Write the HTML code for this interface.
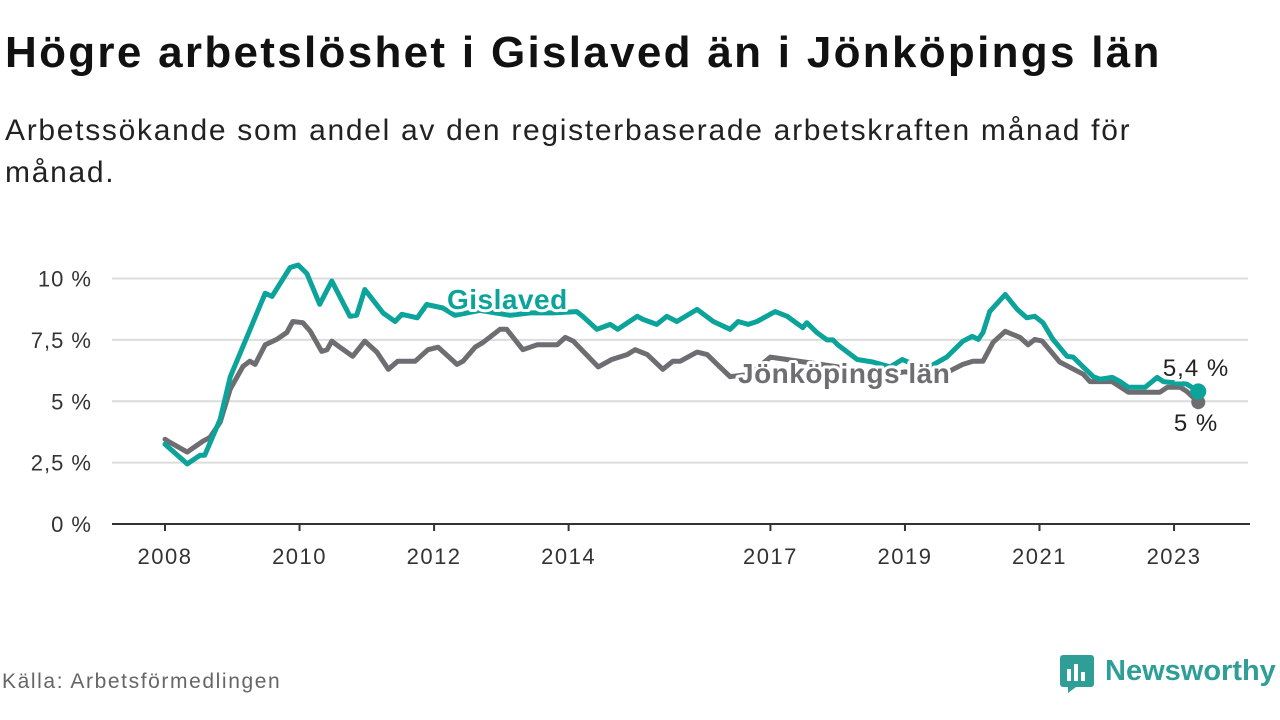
<!DOCTYPE html>
<html><head><meta charset="utf-8"><style>
body{margin:0;width:1280px;height:720px;background:#fff;font-family:"Liberation Sans",sans-serif;overflow:hidden;position:relative}
.t{position:absolute;left:5px;top:28px;font-size:44px;font-weight:bold;color:#111;white-space:nowrap;letter-spacing:2.3px}
.s{position:absolute;left:5px;top:110px;font-size:30px;color:#222;line-height:42px;width:1200px;letter-spacing:1.7px}
.src{position:absolute;left:2px;top:670px;font-size:21px;color:#666;letter-spacing:1.6px}
.logo{position:absolute;left:1060px;top:655px}
.logo span{position:absolute;left:45px;top:0px;font-size:29px;font-weight:bold;color:#2e9e96;white-space:nowrap}
</style></head><body>
<div class="t">Högre arbetslöshet i Gislaved än i Jönköpings län</div>
<div class="s">Arbetssökande som andel av den registerbaserade arbetskraften månad för månad.</div>
<svg id="chart" width="1280" height="720" style="position:absolute;left:0;top:0"></svg>
<div class="src">Källa: Arbetsförmedlingen</div>
<div class="logo">
<svg width="36" height="38"><rect x="0" y="0" width="34" height="32" rx="3" fill="#2e9e96"/><path d="M8 32 L8 38 L16 32Z" fill="#2e9e96"/><rect x="7" y="14" width="4" height="12" fill="#fff"/><rect x="14" y="9" width="4" height="17" fill="#fff"/><rect x="21" y="17" width="4" height="9" fill="#fff"/></svg>
<span>Newsworthy</span></div>
<script>
const yTicks=[0,2.5,5,7.5,10];
const yTickLabels=["0 %","2,5 %","5 %","7,5 %","10 %"];
const xTicks=[2008,2010,2012,2014,2017,2019,2021,2023];
const gisYears=[2008.0,2008.33,2008.52,2008.59,2008.82,2008.97,2009.26,2009.49,2009.59,2009.86,2009.98,2010.11,2010.30,2010.48,2010.75,2010.85,2010.97,2011.24,2011.42,2011.52,2011.75,2011.89,2012.13,2012.31,2012.68,2013.13,2013.43,2013.77,2014.12,2014.21,2014.42,2014.62,2014.73,2015.02,2015.11,2015.31,2015.46,2015.61,2015.91,2016.15,2016.40,2016.52,2016.67,2016.80,2017.07,2017.25,2017.48,2017.54,2017.69,2017.84,2017.93,2018.00,2018.29,2018.52,2018.78,2018.96,2019.30,2019.62,2019.86,2020.00,2020.09,2020.16,2020.26,2020.49,2020.67,2020.81,2020.93,2021.05,2021.20,2021.41,2021.50,2021.65,2021.80,2021.90,2022.08,2022.20,2022.32,2022.57,2022.75,2022.84,2023.19,2023.36];
const gisValues=[3.25,2.45,2.8,2.8,4.27,6.0,7.9,9.4,9.27,10.45,10.55,10.2,8.95,9.9,8.46,8.5,9.55,8.6,8.25,8.54,8.4,8.94,8.8,8.5,8.7,8.5,8.6,8.6,8.65,8.46,7.93,8.13,7.93,8.46,8.33,8.13,8.46,8.25,8.74,8.25,7.93,8.25,8.13,8.25,8.65,8.46,8.0,8.2,7.8,7.5,7.5,7.3,6.7,6.6,6.4,6.7,6.3,6.8,7.44,7.64,7.52,7.8,8.65,9.35,8.74,8.4,8.46,8.2,7.52,6.83,6.8,6.4,6.0,5.9,5.97,5.8,5.57,5.57,5.97,5.8,5.7,5.4];
const jkpYears=[2008.0,2008.07,2008.33,2008.56,2008.67,2008.82,2008.97,2009.16,2009.26,2009.34,2009.49,2009.66,2009.81,2009.90,2010.05,2010.16,2010.33,2010.41,2010.48,2010.60,2010.79,2010.97,2011.15,2011.32,2011.46,2011.72,2011.91,2012.06,2012.34,2012.43,2012.61,2012.73,2012.98,2013.08,2013.32,2013.53,2013.83,2013.95,2014.07,2014.44,2014.64,2014.87,2014.99,2015.17,2015.40,2015.55,2015.66,2015.91,2016.06,2016.21,2016.40,2016.70,2017.00,2017.50,2018.00,2018.50,2019.00,2019.50,2019.86,2020.01,2020.16,2020.31,2020.49,2020.71,2020.83,2020.93,2021.04,2021.30,2021.65,2021.75,2022.08,2022.32,2022.79,2022.90,2023.09,2023.19,2023.36];
const jkpValues=[3.45,3.33,2.93,3.37,3.53,4.15,5.5,6.42,6.63,6.5,7.3,7.52,7.8,8.25,8.2,7.85,7.03,7.1,7.45,7.2,6.83,7.45,7.0,6.3,6.63,6.63,7.1,7.2,6.5,6.63,7.2,7.4,7.93,7.93,7.1,7.3,7.3,7.6,7.45,6.4,6.7,6.9,7.1,6.9,6.3,6.63,6.63,7.0,6.9,6.5,6.0,6.1,6.8,6.6,6.4,6.0,6.2,6.0,6.5,6.63,6.63,7.4,7.85,7.6,7.3,7.52,7.45,6.6,6.1,5.8,5.8,5.37,5.37,5.57,5.57,5.4,4.96];
const NS="http://www.w3.org/2000/svg";
const svg=document.getElementById('chart');
const X=y=>165+(y-2008)*67.27;
const Y=v=>524-v*24.55;
function mk(tag,attrs,parent){const e=document.createElementNS(NS,tag);for(const k in attrs)e.setAttribute(k,attrs[k]);(parent||svg).appendChild(e);return e;}
yTicks.forEach((v,i)=>{
  if(v>0){const g=mk('line',{x1:112,x2:1248,y1:Y(v),y2:Y(v),stroke:'#dcdcdc','stroke-width':2});
  
  }
  const t=mk('text',{x:92,y:Y(v)+8,'text-anchor':'end','font-size':22,'letter-spacing':1,fill:'#333'});
  t.textContent=yTickLabels[i];
  
  
});
const ax=mk('line',{x1:112,x2:1250,y1:524,y2:524,stroke:'#333','stroke-width':2});


xTicks.forEach(yr=>{
  const tk=mk('line',{x1:X(yr),x2:X(yr),y1:524,y2:531,stroke:'#333','stroke-width':2});
  
  
  const t=mk('text',{x:X(yr),y:564,'text-anchor':'middle','font-size':22,'letter-spacing':1.5,fill:'#333'});
  t.textContent=yr;
  
  
});
function line(xs,vs,col,name){
  const d=xs.map((x,i)=>(i?'L':'M')+X(x).toFixed(1)+' '+Y(vs[i]).toFixed(1)).join(' ');
  const p=mk('path',{d:d,fill:'none',stroke:col,'stroke-width':5,'stroke-linejoin':'round','stroke-linecap':'round'});
  
  
}
line(jkpYears,jkpValues,'#6e6d72','jonkoping-line');
line(gisYears,gisValues,'#0ba39a','gislaved-line');
function lab(x,y,txt,col,name){
  const t=mk('text',{x:x,y:y,'font-size':28,'font-weight':'bold','letter-spacing':0.5,fill:col,stroke:'#fff','stroke-width':6,'paint-order':'stroke','stroke-linejoin':'round'});
  t.textContent=txt;
  
  
}
lab(447,309,'Gislaved','#0ba39a','gislaved-label');
lab(738,383,'Jönköpings län','#6e6d72','jonkoping-label');
const jl=jkpYears.length-1, gl=gisYears.length-1;
const d1=mk('circle',{cx:X(jkpYears[jl]),cy:Y(jkpValues[jl]),r:7,fill:'#6e6d72'});


const d2=mk('circle',{cx:X(gisYears[gl]),cy:Y(gisValues[gl]),r:8,fill:'#0ba39a'});


function vlab(x,y,txt,name){
  const t=mk('text',{x:x,y:y,'text-anchor':'middle','font-size':24,'letter-spacing':1,fill:'#222',stroke:'#fff','stroke-width':5,'paint-order':'stroke'});
  t.textContent=txt;
  
  
}
vlab(1196,376,String(gisValues[gl]).replace('.',',')+' %','gislaved-end-value');
vlab(1196,431,Math.round(jkpValues[jl])+' %','jonkoping-end-value');
</script>
</body></html>
